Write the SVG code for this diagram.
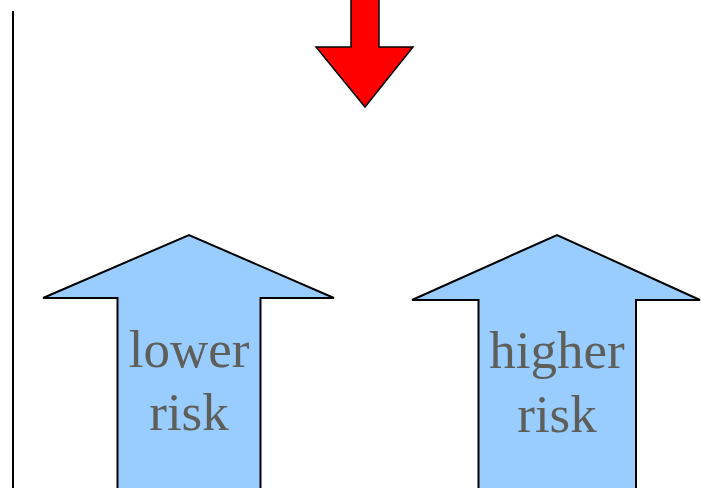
<svg xmlns="http://www.w3.org/2000/svg" width="701" height="488" viewBox="0 0 701 488">
<style>
.blue{fill:#99ccff;stroke:#000;stroke-width:2;stroke-linejoin:miter}
.red{fill:#ff0000;stroke:#000;stroke-width:1.5}
.lbl{font-family:"Liberation Serif",serif;font-size:53px;fill:#5f5f5a;text-anchor:middle}
</style>
<g id="connectors">
<line x1="13" y1="11" x2="13" y2="488" stroke="#000" stroke-width="2"/>
</g>
<g id="red-arrow">
<polygon class="red" points="351,-2 379,-2 379,47 413,47 365,107 316,47 351,47"/>
</g>
<g id="lower-risk">
<polygon class="blue" points="117.5,490 117.5,298 43,298 189,235 334,298 260.5,298 260.5,490"/>
<text class="lbl" x="189" y="367">lower</text>
<text class="lbl" x="189" y="430">risk</text>
</g>
<g id="higher-risk">
<polygon class="blue" points="478.5,490 478.5,300 412,300 557,235 700,300 636,300 636,490"/>
<text class="lbl" x="557" y="368">higher</text>
<text class="lbl" x="557" y="432">risk</text>
</g>
</svg>
